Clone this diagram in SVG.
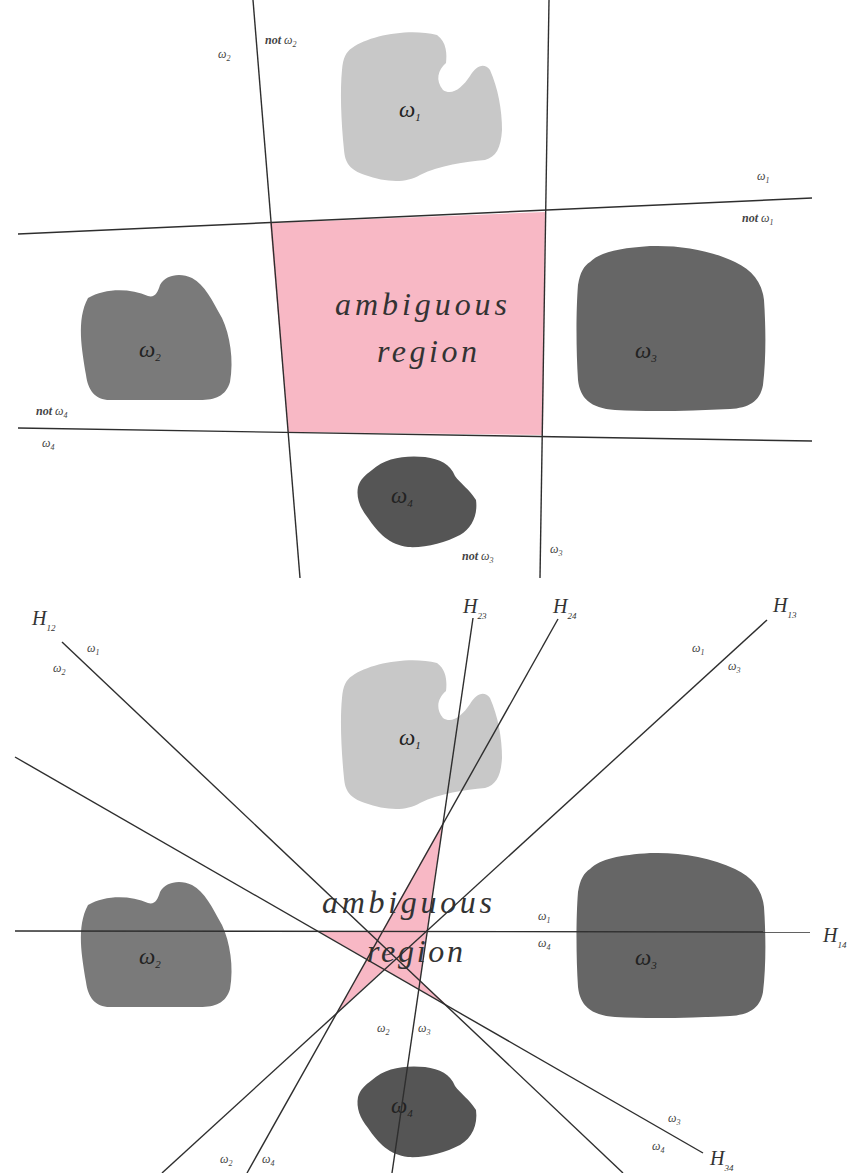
<svg xmlns="http://www.w3.org/2000/svg" width="859" height="1173" viewBox="0 0 859 1173">
<style>
.ln{stroke:#2e2e2e;stroke-width:1.4;fill:none}
.pink{fill:#f8b8c5;stroke:none}
.w1{fill:#c8c8c8}.w2{fill:#7a7a7a}.w3{fill:#666}.w4{fill:#555}
.lbl{font-family:"Liberation Serif",serif;font-style:italic;font-size:12px;fill:#444}
.not{font-weight:bold}
.sub{font-size:8px}
.bl{font-family:"Liberation Serif",serif;font-style:italic;font-size:23px;fill:#222}
.bsub{font-size:11px}
.H{font-family:"Liberation Serif",serif;font-style:italic;font-size:20px;fill:#333}
.Hs{font-size:9px}
.amb{font-family:"Liberation Serif",serif;font-style:italic;font-size:32px;fill:#333}
</style>
<defs>
<path id="b1" d="M352,48 C370,35 410,28 437,35 C447,42 447,55 446,63 C438,70 435,80 443,90 C452,96 462,88 470,76 C476,66 484,62 490,70 C498,88 502,110 502,130 C501,148 496,157 485,160 C465,162 440,165 420,175 C405,184 385,182 365,175 C350,170 345,163 344,150 C341,120 340,90 342,70 C343,58 346,52 352,48 Z"/>
<path id="b2" d="M88,298 C105,288 130,288 148,296 C155,298 158,292 160,285 C165,275 180,272 192,278 C205,285 212,300 222,318 C230,335 234,360 230,382 C226,396 215,400 200,400 L110,400 C95,400 88,390 86,375 C82,350 76,320 88,298 Z"/>
<path id="b3" d="M590,262 C600,252 620,248 650,246 C680,245 710,250 735,262 C752,270 762,282 764,300 C766,330 766,360 763,385 C760,402 748,408 730,409 C690,411 650,412 615,410 C590,408 580,398 578,380 C576,350 576,310 578,285 C580,272 584,266 590,262 Z"/>
<path id="b4" d="M372,470 C385,458 405,455 425,457 C440,459 450,464 455,476 C460,483 470,490 476,500 C478,515 472,528 460,535 C445,543 425,548 408,547 C390,545 378,533 368,518 C360,508 356,498 358,487 C360,480 365,475 372,470 Z"/>
</defs>

<!-- TOP PANEL -->
<g id="top-ambiguous">
<polygon class="pink" points="270,223 545,212 543,435 288,432"/>
<text class="amb" x="335" y="315" textLength="172" lengthAdjust="spacing">ambiguous</text>
<text class="amb" x="377" y="362" textLength="100" lengthAdjust="spacing">region</text>
</g>
<g id="top-w1"><use href="#b1" class="w1"/><text class="bl" x="399" y="117">ω<tspan class="bsub" dy="4">1</tspan></text></g>
<g id="top-w2"><use href="#b2" class="w2"/><text class="bl" x="139" y="357">ω<tspan class="bsub" dy="4">2</tspan></text></g>
<g id="top-w3"><use href="#b3" class="w3"/><text class="bl" x="635" y="358">ω<tspan class="bsub" dy="4">3</tspan></text></g>
<g id="top-w4"><use href="#b4" class="w4"/><text class="bl" x="391" y="503">ω<tspan class="bsub" dy="4">4</tspan></text></g>

<g id="top-connectors">
<line class="ln" x1="253" y1="0" x2="300" y2="578"/>
<line class="ln" x1="549" y1="0" x2="540" y2="578"/>
<line class="ln" x1="18" y1="234" x2="812" y2="198"/>
<line class="ln" x1="18" y1="428" x2="812" y2="441"/>
</g>
<g id="top-labels">
<text class="lbl" x="218" y="58">ω<tspan class="sub" dy="3">2</tspan></text>
<text class="lbl" x="265" y="44"><tspan class="not">not</tspan> ω<tspan class="sub" dy="3">2</tspan></text>
<text class="lbl" x="757" y="180">ω<tspan class="sub" dy="3">1</tspan></text>
<text class="lbl" x="742" y="222"><tspan class="not">not</tspan> ω<tspan class="sub" dy="3">1</tspan></text>
<text class="lbl" x="36" y="415"><tspan class="not">not</tspan> ω<tspan class="sub" dy="3">4</tspan></text>
<text class="lbl" x="42" y="447">ω<tspan class="sub" dy="3">4</tspan></text>
<text class="lbl" x="462" y="560"><tspan class="not">not</tspan> ω<tspan class="sub" dy="3">3</tspan></text>
<text class="lbl" x="550" y="553">ω<tspan class="sub" dy="3">3</tspan></text>
</g>

<!-- BOTTOM PANEL -->
<g id="bot-w1" transform="translate(0,628)"><use href="#b1" class="w1"/><text class="bl" x="399" y="117">ω<tspan class="bsub" dy="4">1</tspan></text></g>
<g id="bot-w2" transform="translate(0,607)"><use href="#b2" class="w2"/><text class="bl" x="139" y="357">ω<tspan class="bsub" dy="4">2</tspan></text></g>
<g id="bot-w3" transform="translate(0,607)"><use href="#b3" class="w3"/><text class="bl" x="635" y="358">ω<tspan class="bsub" dy="4">3</tspan></text></g>
<g id="bot-w4" transform="translate(0,610)"><use href="#b4" class="w4"/><text class="bl" x="391" y="503">ω<tspan class="bsub" dy="4">4</tspan></text></g>

<g id="bot-ambiguous">
<polygon class="pink" points="443,823 427,931 420,981 447,1005 384,969 336.5,1013 367,959 318,931 382,931"/>
<text class="amb" x="322" y="913" textLength="170" lengthAdjust="spacing">ambiguous</text>
<text class="amb" x="367" y="962" textLength="96" lengthAdjust="spacing">region</text>
</g>

<g id="bot-connectors">
<line class="ln" x1="62" y1="642" x2="623" y2="1173"/>
<line class="ln" x1="767" y1="620" x2="162" y2="1173"/>
<line class="ln" x1="473" y1="618" x2="392" y2="1173"/>
<line class="ln" x1="558" y1="619" x2="247" y2="1173"/>
<line class="ln" x1="15" y1="757" x2="703" y2="1153"/>
<line class="ln" x1="15" y1="931" x2="810" y2="932"/>
</g>
<g id="bot-labels">
<text class="H" x="32" y="625">H<tspan class="Hs" dy="6">12</tspan></text>
<text class="H" x="463" y="613">H<tspan class="Hs" dy="6">23</tspan></text>
<text class="H" x="553" y="613">H<tspan class="Hs" dy="6">24</tspan></text>
<text class="H" x="773" y="612">H<tspan class="Hs" dy="6">13</tspan></text>
<text class="H" x="823" y="942">H<tspan class="Hs" dy="6">14</tspan></text>
<text class="H" x="710" y="1165">H<tspan class="Hs" dy="6">34</tspan></text>
<text class="lbl" x="87" y="652">ω<tspan class="sub" dy="3">1</tspan></text>
<text class="lbl" x="53" y="672">ω<tspan class="sub" dy="3">2</tspan></text>
<text class="lbl" x="692" y="652">ω<tspan class="sub" dy="3">1</tspan></text>
<text class="lbl" x="728" y="670">ω<tspan class="sub" dy="3">3</tspan></text>
<text class="lbl" x="538" y="920">ω<tspan class="sub" dy="3">1</tspan></text>
<text class="lbl" x="538" y="947">ω<tspan class="sub" dy="3">4</tspan></text>
<text class="lbl" x="377" y="1032">ω<tspan class="sub" dy="3">2</tspan></text>
<text class="lbl" x="418" y="1032">ω<tspan class="sub" dy="3">3</tspan></text>
<text class="lbl" x="220" y="1163">ω<tspan class="sub" dy="3">2</tspan></text>
<text class="lbl" x="262" y="1163">ω<tspan class="sub" dy="3">4</tspan></text>
<text class="lbl" x="668" y="1122">ω<tspan class="sub" dy="3">3</tspan></text>
<text class="lbl" x="652" y="1150">ω<tspan class="sub" dy="3">4</tspan></text>
</g>
</svg>
